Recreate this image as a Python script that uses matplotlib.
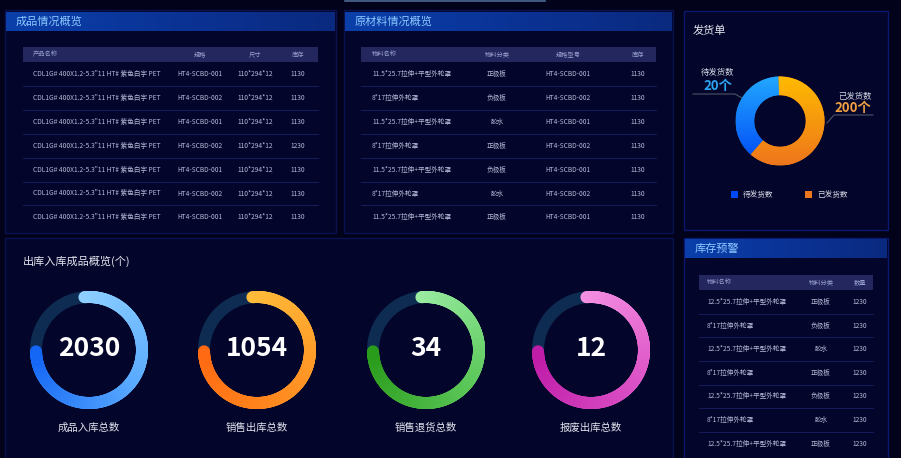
import matplotlib
matplotlib.use('Agg')
import matplotlib.pyplot as plt
import numpy as np
from matplotlib.patches import Rectangle
from matplotlib.collections import LineCollection
from matplotlib.colors import LinearSegmentedColormap

plt.rcParams['font.family'] = ['Noto Sans CJK SC', 'DejaVu Sans']

# ---- data ----
goods_headers = ['产品名称', '规格', '尺寸', '库存']
goods_names = ['CDL1G# 400X1.2-5.3"11 HT# 紫色白字 PET'] * 7
goods_specs = ['HT4-SCBD-001', 'HT4-SCBD-002', 'HT4-SCBD-001', 'HT4-SCBD-002',
               'HT4-SCBD-001', 'HT4-SCBD-002', 'HT4-SCBD-001']
goods_sizes = ['110*294*12'] * 7
goods_stock = ['1130', '1130', '1130', '1230', '1130', '1130', '1130']

material_headers = ['物料名称', '物料分类', '规格型号', '库存']
material_names = ['11.5*25.7拉伸+平型外轮罩', '8*17拉伸外轮罩', '11.5*25.7拉伸+平型外轮罩',
                  '8*17拉伸外轮罩', '11.5*25.7拉伸+平型外轮罩', '8*17拉伸外轮罩',
                  '11.5*25.7拉伸+平型外轮罩']
material_types = ['正极板', '负极板', '胶水', '正极板', '负极板', '胶水', '正极板']
material_models = ['HT4-SCBD-001', 'HT4-SCBD-002', 'HT4-SCBD-001', 'HT4-SCBD-002',
                   'HT4-SCBD-001', 'HT4-SCBD-002', 'HT4-SCBD-001']
material_stock = ['1130'] * 7

warn_headers = ['物料名称', '物料分类', '数量']
warn_names = ['12.5*25.7拉伸+平型外轮罩', '8*17拉伸外轮罩', '12.5*25.7拉伸+平型外轮罩',
              '8*17拉伸外轮罩', '12.5*25.7拉伸+平型外轮罩', '8*17拉伸外轮罩',
              '12.5*25.7拉伸+平型外轮罩']
warn_types = ['正极板', '负极板', '胶水', '正极板', '负极板', '胶水', '正极板']
warn_qty = ['1230', '1230', '1230', '1230', '1230', '1230', '1230']

ship_labels = ['待发货数', '已发货数']
ship_counts = [20, 200]
ship_shares = [38, 62]   # arc shares as drawn in the chart

gauge_labels = ['成品入库总数', '销售出库总数', '销售退货总数', '报废出库总数']
gauge_values = [2030, 1054, 34, 12]
gauge_fill = [0.76, 0.76, 0.76, 0.76]

# ---- style ----
BG = '#02021a'
PANEL = '#04052a'
EDGE = '#09124e'
HEAD_FILL = '#23275e'
SEP = '#161c5a'
TXT = '#b4bbd8'
HTXT = '#9aa2d0'

W, H = 901, 458
fig = plt.figure(figsize=(W / 100, H / 100), dpi=100, facecolor=BG)
ax = fig.add_axes([0, 0, 1, 1])
ax.set_facecolor(BG)
ax.axis('off')


def panel(x0, y0, x1, y1, edge=EDGE):
    ax.add_patch(Rectangle((x0, y0), x1 - x0, y1 - y0, facecolor=PANEL,
                           edgecolor=edge, lw=1.0, zorder=1))


def title_bar(x0, y0, x1, y1, text):
    grad = np.linspace(0, 1, 200).reshape(1, -1)
    cmap = LinearSegmentedColormap.from_list('hb', ['#0b3faa', '#0a3396', '#0a2a80'])
    ax.imshow(grad, extent=(x0, x1, y1, y0), cmap=cmap, aspect='auto', zorder=2)
    ax.text(x0 + 10, (y0 + y1) / 2 + 0.5, text, color='#8cc8ff', fontsize=8,
            va='center', ha='left', zorder=3)


def table(x0, x1, hy0, hy1, cols, headers, rows, row0, step):
    ax.add_patch(Rectangle((x0, hy0), x1 - x0, hy1 - hy0, facecolor=HEAD_FILL,
                           edgecolor='none', zorder=2))
    hy = (hy0 + hy1) / 2
    for (cx, ha), h in zip(cols, headers):
        ax.text(cx, hy, h, color=HTXT, fontsize=4.5, ha=ha, va='center', zorder=3)
    for i, row in enumerate(zip(*rows)):
        y = row0 + i * step
        for (cx, ha), v in zip(cols, row):
            ax.text(cx, y, v, color=TXT, fontsize=4.8, ha=ha, va='center', zorder=3)
        if i < len(rows[0]) - 1:
            ax.plot([x0, x1], [y + step / 2, y + step / 2], color=SEP, lw=0.7, zorder=2)


# top decorative line
ax.plot([345, 545], [0.8, 0.8], color='#4a6a90', lw=1.2, zorder=2)

# panels
panel(5, 10, 336, 233)
panel(344, 10, 673, 233)
panel(684, 11, 888, 230, edge='#0b1870')
panel(5, 238, 673, 470)
panel(684, 238, 888, 470, edge='#0b1870')

title_bar(6, 12, 335, 31, '成品情况概览')
title_bar(345, 12, 672, 31, '原材料情况概览')
title_bar(685, 239, 887, 258, '库存预警')

table(23, 318, 47, 62, [(33, 'left'), (200, 'center'), (255, 'center'), (298, 'center')],
      goods_headers, [goods_names, goods_specs, goods_sizes, goods_stock], 74, 23.9)
table(361, 656, 47, 62, [(372, 'left'), (497, 'center'), (568, 'center'), (638, 'center')],
      material_headers, [material_names, material_types, material_models, material_stock],
      74, 23.9)
table(699, 873, 275, 290, [(707, 'left'), (821, 'center'), (860, 'center')],
      warn_headers, [warn_names, warn_types, warn_qty], 302, 23.6)

# ---- shipping donut ----
ax.text(693, 31, '发货单', color='#e6e8f2', fontsize=8, ha='left', va='center', zorder=3)
ship_colors = [['#0048f5', '#22a8ff'], ['#ee761c', '#ffbb00']]
ship_text_colors = ['#2aa6f2', '#f2a040']
# labels
ax.text(718, 73, ship_labels[0], color='#d8dbe8', fontsize=6, ha='center', va='center')
ax.text(718, 86, f'{ship_counts[0]}个', color=ship_text_colors[0], fontsize=9.5,
        fontweight='bold', ha='center', va='center')
ax.plot([693, 735, 742], [94, 94, 98], color='#556070', lw=0.7)
ax.text(855, 96, ship_labels[1], color='#d8dbe8', fontsize=6, ha='center', va='center')
ax.text(853, 108, f'{ship_counts[1]}个', color=ship_text_colors[1], fontsize=9.5,
        fontweight='bold', ha='center', va='center')
ax.plot([827, 834, 873], [123, 115, 115], color='#556070', lw=0.7)
# legend
for x, lab, cols in zip([731, 805], ship_labels, ship_colors):
    ax.add_patch(Rectangle((x, 191), 7, 7, facecolor=cols[0], edgecolor='none', zorder=3))
    ax.text(x + 12, 195, lab, color='#d8dbe8', fontsize=5.5, ha='left', va='center')

cx, cy, R = 780, 121, 44.5
pax = fig.add_axes([(cx - R) / W, 1 - (cy + R) / H, 2 * R / W, 2 * R / H])
pax.set_facecolor('none')
wedges, _ = pax.pie(ship_shares, startangle=92, counterclock=True, radius=1,
                    wedgeprops=dict(width=0.42, linewidth=0))
grad = np.linspace(0, 1, 256).reshape(-1, 1)
for w, cols in zip(wedges, ship_colors):
    cmap = LinearSegmentedColormap.from_list('g', cols)
    im = pax.imshow(grad, extent=(-1, 1, -1, 1), cmap=cmap, origin='lower', zorder=3)
    im.set_clip_path(w)
pax.set_xlim(-1, 1)
pax.set_ylim(-1, 1)
pax.set_aspect('equal')
pax.axis('off')

# ---- gauges ----
ax.text(23, 261, '出库入库成品概览(个)', color='#e2e4ee', fontsize=8, ha='left', va='center')
gauge_x = [89, 257, 426, 591]
gauge_cols = [['#8ed0ff', '#5aaaff', '#1466f5'],
              ['#ffbc3a', '#ff9424', '#ff6a12'],
              ['#9aeca2', '#5cc85a', '#2a9c1c'],
              ['#f490e2', '#dc52c6', '#bf1ca8']]
gy, gr = 350, 53
lw = 12 * 0.72
t_full = np.linspace(0, 2 * np.pi, 300)
for gx, val, lab, fill, cols in zip(gauge_x, gauge_values, gauge_labels, gauge_fill, gauge_cols):
    ax.plot(gx + gr * np.cos(t_full), gy - gr * np.sin(t_full), color='#0e2c52', lw=lw,
            zorder=2)
    th = np.radians(np.linspace(95, 95 - fill * 360, 300))
    px = gx + gr * np.cos(th)
    py = gy - gr * np.sin(th)
    pts = np.column_stack([px, py])
    segs = np.stack([pts[:-1], pts[1:]], axis=1)
    cmap = LinearSegmentedColormap.from_list('a', cols)
    lc = LineCollection(segs, colors=cmap(np.linspace(0, 1, len(segs))), linewidths=lw,
                        capstyle='round', zorder=3)
    ax.add_collection(lc)
    ax.text(gx, gy - 1, str(val), color='white', fontsize=19, fontweight='bold',
            ha='center', va='center', zorder=4)
    ax.text(gx, 428, lab, color='#e2e4ee', fontsize=7.5, ha='center', va='center')

ax.set_xlim(0, W)
ax.set_ylim(H, 0)

fig.savefig('out.png', dpi=100, facecolor=BG)
